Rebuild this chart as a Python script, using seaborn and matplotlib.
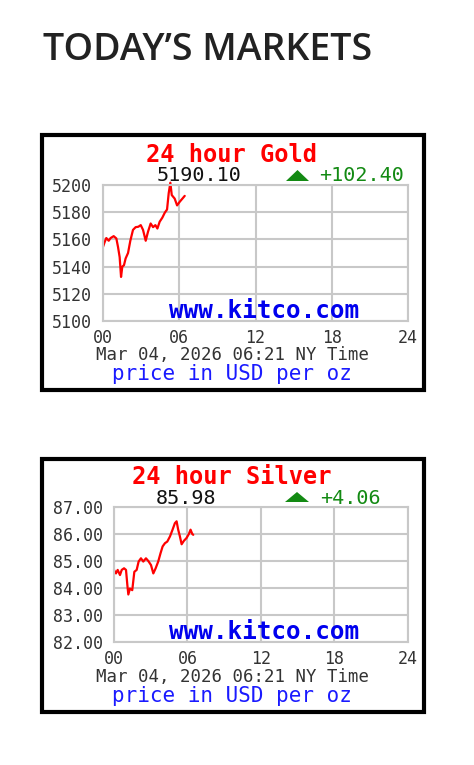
import matplotlib
matplotlib.use("Agg")
import matplotlib.pyplot as plt
import seaborn as sns
import pandas as pd
from matplotlib.patches import Rectangle, Polygon

# ---------------- data ----------------
heading = "TODAY\u2019S MARKETS"
hour_ticks = [0, 6, 12, 18, 24]
hour_labels = ["00", "06", "12", "18", "24"]

gold_title = "24 hour Gold"
gold_last = "5190.10"
gold_change = "+102.40"
gold_yticks = [5100, 5120, 5140, 5160, 5180, 5200]
gold_ylabels = ["5100", "5120", "5140", "5160", "5180", "5200"]
gold_hours = [0.00, 0.13, 0.26, 0.45, 0.60, 0.84, 1.05, 1.18, 1.31, 1.42, 1.52, 1.65,
              1.78, 1.97, 2.15, 2.36, 2.57, 2.78, 2.97, 3.15, 3.36, 3.54, 3.75, 3.94,
              4.12, 4.28, 4.46, 4.67, 4.86, 5.04, 5.17, 5.30, 5.41, 5.64, 5.83, 6.04,
              6.25, 6.43]
gold_price = [5154.5, 5158.0, 5161.0, 5159.0, 5161.0, 5162.4, 5160.7, 5154.5, 5147.0,
              5132.4, 5140.0, 5141.0, 5146.0, 5150.0, 5159.0, 5167.0, 5169.0, 5169.3,
              5170.5, 5167.0, 5159.0, 5165.6, 5171.7, 5169.0, 5170.5, 5168.0, 5173.0,
              5176.0, 5179.6, 5182.0, 5194.0, 5201.7, 5192.6, 5190.0, 5185.0, 5187.7,
              5190.0, 5192.0]

silver_title = "24 hour Silver"
silver_last = "85.98"
silver_change = "+4.06"
silver_yticks = [82, 83, 84, 85, 86, 87]
silver_ylabels = ["82.00", "83.00", "84.00", "85.00", "86.00", "87.00"]
silver_hours = [0.00, 0.16, 0.30, 0.49, 0.63, 0.82, 0.98, 1.09, 1.17, 1.30, 1.49, 1.66,
                1.85, 2.01, 2.20, 2.39, 2.61, 2.80, 3.02, 3.21, 3.40, 3.61, 3.80, 3.97,
                4.16, 4.35, 4.57, 4.78, 4.97, 5.11, 5.24, 5.38, 5.52, 5.71, 5.92, 6.11,
                6.25, 6.39, 6.47]
silver_price = [84.67, 84.54, 84.67, 84.48, 84.67, 84.73, 84.67, 84.11, 83.76, 83.98,
                83.92, 84.60, 84.67, 84.98, 85.10, 84.98, 85.10, 85.00, 84.85, 84.54,
                84.73, 84.98, 85.29, 85.54, 85.66, 85.72, 85.91, 86.16, 86.40, 86.47,
                86.16, 85.91, 85.62, 85.75, 85.85, 86.00, 86.16, 86.00, 85.97]

date_text = "Mar 04, 2026 06:21 NY Time"
unit_text = "price in USD per oz"
site_text = "www.kitco.com"

# ---------------- layout ----------------
sns.set_style("white")
W, H = 474, 765
fig = plt.figure(figsize=(W / 100, H / 100), dpi=100)
fig.patch.set_facecolor("white")
MONO = ["DejaVu Sans Mono"]


def fx(x):
    return x / W


def fy(y):
    return 1 - y / H


fig.text(fx(43), fy(60), heading, ha="left", va="baseline", fontsize=27,
         fontweight="semibold", family=["Open Sans", "DejaVu Sans"], color="#222222")

GRID = "#c8c8c8"


def panel(box, plot, hours, price, yticks, ylabels, ylim, title, last, change,
          ylab_pad, rows):
    # outer black frame
    x0, y0, x1, y1 = box
    fig.patches.append(Rectangle((fx(x0), fy(y1)), fx(x1) - fx(x0), fy(y0) - fy(y1),
                                 transform=fig.transFigure, fill=False,
                                 edgecolor="black", linewidth=3.0))
    px0, py0, px1, py1 = plot
    ax = fig.add_axes([fx(px0), fy(py1), fx(px1) - fx(px0), fy(py0) - fy(py1)])
    df = pd.DataFrame({"hour": hours, "price": price})
    sns.lineplot(data=df, x="hour", y="price", ax=ax, color="#ff0000",
                 linewidth=1.6, clip_on=False)
    ax.set_xlim(0, 24)
    ax.set_ylim(*ylim)
    ax.set_xticks(hour_ticks)
    ax.set_xticklabels(hour_labels)
    ax.set_yticks(yticks)
    ax.set_yticklabels(ylabels)
    ax.set_xlabel("")
    ax.set_ylabel("")
    ax.grid(True, color=GRID, linewidth=1.5)
    ax.set_axisbelow(True)
    for s in ax.spines.values():
        s.set_color(GRID)
        s.set_linewidth(1.5)
    ax.tick_params(axis="both", length=0, colors="#333333", labelsize=12)
    ax.tick_params(axis="y", pad=ylab_pad)
    ax.tick_params(axis="x", pad=6)
    for lab in ax.get_xticklabels() + ax.get_yticklabels():
        lab.set_family(MONO)
    # texts
    t_y, v_y, tri, c_x, v_x, kit_y, date_y, unit_y = rows
    fig.text(fx(232), fy(t_y), title, ha="center", va="baseline", fontsize=17,
             fontweight="bold", family=MONO, color="#ff0000")
    fig.text(fx(v_x), fy(v_y), last, ha="center", va="baseline", fontsize=14.5,
             family=MONO, color="#111111")
    fig.text(fx(c_x), fy(v_y), change, ha="center", va="baseline", fontsize=14.5,
             family=MONO, color="#138a13")
    tx0, tx1, ty0, ty1 = tri
    fig.patches.append(Polygon([(fx(tx0), fy(ty1)), (fx(tx1), fy(ty1)),
                                (fx((tx0 + tx1) / 2), fy(ty0))],
                               closed=True, transform=fig.transFigure,
                               facecolor="#138a13", edgecolor="none"))
    fig.text(fx(264), fy(kit_y), site_text, ha="center", va="baseline", fontsize=17.5,
             fontweight="bold", family=MONO, color="#0000ee")
    fig.text(fx(233), fy(date_y), date_text, ha="center", va="baseline", fontsize=12.5,
             family=MONO, color="#333333")
    fig.text(fx(232), fy(unit_y), unit_text, ha="center", va="baseline", fontsize=15,
             family=MONO, color="#1a1aff")
    return ax


# rows: title baseline, value baseline, triangle, change x, value x,
#       site baseline, date baseline, unit baseline
panel((42, 135, 424, 390), (103, 185, 408, 321), gold_hours, gold_price,
      gold_yticks, gold_ylabels, (5100, 5200), gold_title, gold_last, gold_change,
      8, (162, 181, (286, 309, 170, 181), 362, 199, 318, 360, 380))

panel((42, 459, 424, 712), (114, 507, 408, 642), silver_hours, silver_price,
      silver_yticks, silver_ylabels, (82, 87), silver_title, silver_last, silver_change,
      8, (484, 504, (285, 309, 492, 502), 350, 186, 639, 682, 702))

fig.savefig("out.png", dpi=100, facecolor="white")
